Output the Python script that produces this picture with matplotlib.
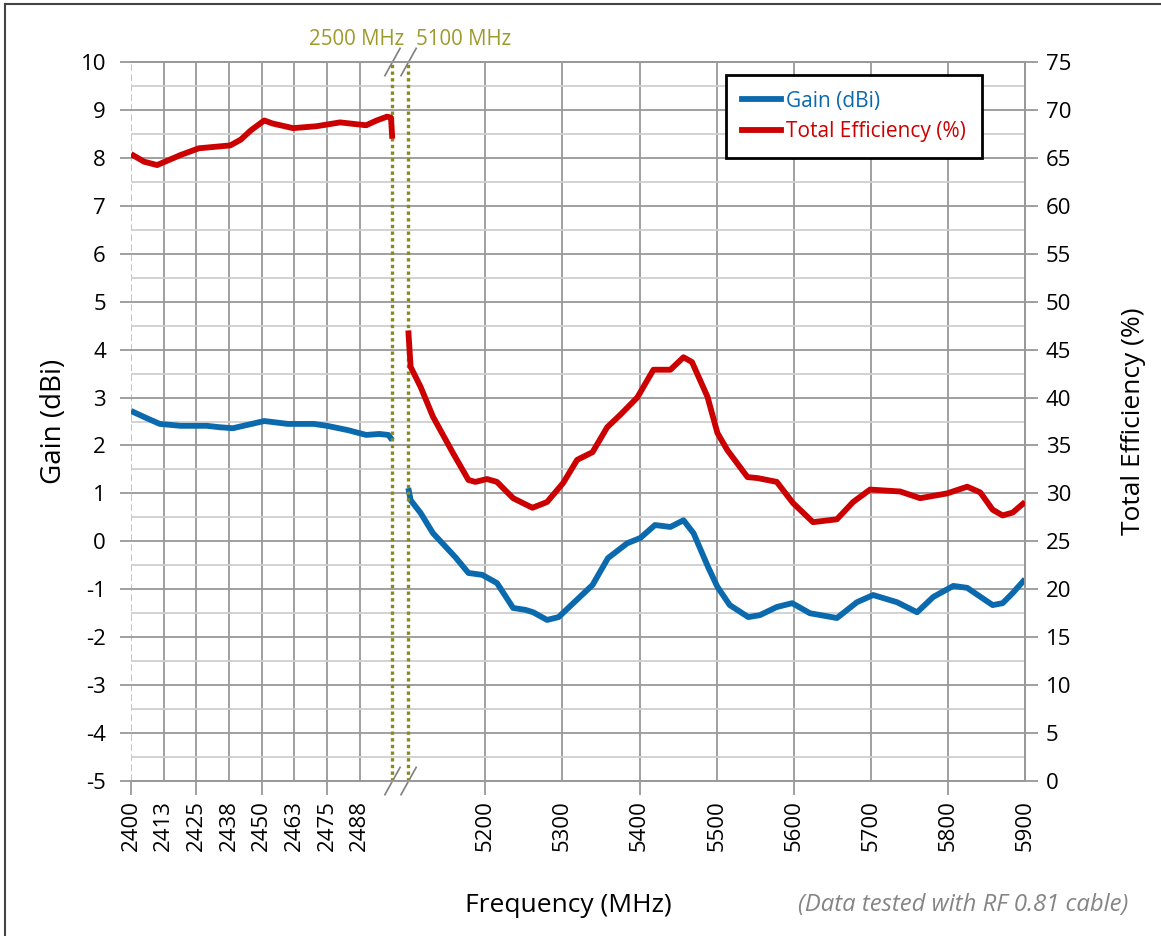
import numpy as np
import matplotlib
matplotlib.use("Agg")
import matplotlib.pyplot as plt
from matplotlib.lines import Line2D

plt.rcParams['font.family'] = ['Open Sans', 'DejaVu Sans']

# 2.4 GHz band readings
freq_lo_gain = [2400, 2406, 2411, 2419, 2429, 2434, 2439, 2443, 2451, 2460, 2470, 2475, 2483, 2490, 2495, 2498.5, 2500]
gain_lo = [2.72, 2.57, 2.45, 2.41, 2.41, 2.38, 2.36, 2.41, 2.51, 2.45, 2.45, 2.41, 2.32, 2.22, 2.24, 2.22, 2.11]
freq_lo_eff = [2400, 2405, 2410, 2419, 2426, 2438, 2442, 2446, 2451, 2454, 2462, 2471, 2480, 2490, 2494, 2498, 2499.5, 2500]
eff_lo = [65.4, 64.6, 64.25, 65.3, 66.0, 66.3, 66.9, 67.9, 68.9, 68.6, 68.1, 68.3, 68.7, 68.4, 68.9, 69.3, 69.2, 67.0]

# 5 GHz band readings
freq_hi_gain = [5100, 5103, 5116, 5132, 5161, 5178, 5196, 5215, 5236, 5252, 5262, 5280, 5295, 5314, 5339,
                5359, 5384, 5401, 5420, 5440, 5457, 5470, 5489, 5501, 5517, 5541, 5556, 5578, 5598, 5621,
                5656, 5682, 5703, 5734, 5760, 5781, 5807, 5825, 5858, 5871, 5884, 5900]
gain_hi = [1.11, 0.86, 0.59, 0.17, -0.33, -0.66, -0.70, -0.87, -1.39, -1.43, -1.48, -1.64, -1.58, -1.29, -0.91,
           -0.35, -0.04, 0.07, 0.34, 0.30, 0.44, 0.17, -0.54, -0.95, -1.33, -1.58, -1.54, -1.37, -1.29, -1.50,
           -1.60, -1.27, -1.12, -1.27, -1.48, -1.16, -0.93, -0.97, -1.33, -1.29, -1.08, -0.79]
freq_hi_eff = [5100, 5103, 5116, 5132, 5158, 5178, 5187, 5202, 5215, 5236, 5261, 5280, 5301, 5319, 5339,
               5358, 5375, 5397, 5418, 5440, 5457, 5468, 5488, 5501, 5514, 5540, 5553, 5578, 5599, 5625,
               5656, 5677, 5699, 5738, 5764, 5799, 5825, 5842, 5858, 5871, 5884, 5900]
eff_hi = [47.0, 43.2, 41.1, 38.0, 34.2, 31.4, 31.2, 31.5, 31.2, 29.5, 28.5, 29.1, 31.1, 33.5, 34.3,
          36.9, 38.2, 40.0, 42.9, 42.9, 44.2, 43.7, 40.1, 36.3, 34.5, 31.7, 31.6, 31.2, 29.0, 27.0,
          27.3, 29.1, 30.4, 30.2, 29.5, 30.0, 30.7, 30.1, 28.3, 27.7, 28.0, 29.1]

tick_freqs = [2400, 2412.5, 2425, 2437.5, 2450, 2462.5, 2475, 2487.5,
              5200, 5300, 5400, 5500, 5600, 5700, 5800, 5900]
tick_labels = ['2400', '2413', '2425', '2438', '2450', '2463', '2475', '2488',
               '5200', '5300', '5400', '5500', '5600', '5700', '5800', '5900']
mark_freqs = [2400, 2425, 2450, 2475, 5200, 5400, 5600, 5800]

BLUE = '#0b6aad'
RED = '#cc0000'
OLIVE = '#8a8a1a'
OLIVE_TXT = '#9d9a2c'
GRID = '#999999'
GRID_MINOR = '#cfcfcf'

# broken frequency axis: 2400-2500 wide, small gap, 5100-5900
def fwd(f):
    f = np.asarray(f, dtype=float)
    return np.where(f <= 2500, (f - 2400) * 2.61,
                    np.where(f >= 5100, 277 + (f - 5100) * 0.77,
                             261 + (f - 2500) * 16 / 2600))

def inv(u):
    u = np.asarray(u, dtype=float)
    return np.where(u <= 261, 2400 + u / 2.61,
                    np.where(u >= 277, 5100 + (u - 277) / 0.77,
                             2500 + (u - 261) * 2600 / 16))

fig = plt.figure(figsize=(11.61, 9.36), dpi=100)
ax = fig.add_axes([131 / 1161, 1 - 781 / 936, 894 / 1161, 719 / 936])
ax.set_xscale('function', functions=(fwd, inv))
ax.set_xlim(2400, 5900)
ax.set_ylim(-5, 10)

ax2 = ax.twinx()
ax2.set_ylim(0, 75)

# grid
ax.set_yticks(np.arange(-5, 11, 1))
ax.set_yticks(np.arange(-4.5, 10, 1), minor=True)
ax.grid(axis='y', which='major', color=GRID, lw=1.3, zorder=0)
ax.grid(axis='y', which='minor', color=GRID_MINOR, lw=1.3, zorder=0)
for f in tick_freqs[1:]:
    ax.axvline(f, color=GRID, lw=1.3, zorder=0.5)
ax.axvline(2400, color='#c8c060', lw=1.2, ls=(0, (4, 2)), zorder=1)

ax.xaxis.remove_overlapping_locs = False
ax.set_xticks(tick_freqs)
ax.set_xticklabels(tick_labels, rotation=90)
ax.set_xticks(mark_freqs, minor=True)
ax.tick_params(axis='x', which='major', length=0, pad=14, labelsize=16)
ax.tick_params(axis='x', which='minor', length=10, width=1.3, color=GRID)
ax.tick_params(axis='y', which='major', length=8, width=1.3, color=GRID, pad=10, labelsize=16)
ax.tick_params(axis='y', which='minor', length=0)
ax.set_yticklabels([str(v) for v in range(-5, 11)])

ax2.set_yticks(np.arange(0, 80, 5))
ax2.tick_params(axis='y', length=9, width=1.3, color=GRID, pad=6, labelsize=16)

for a in (ax, ax2):
    a.spines['left'].set_visible(False)
    for s in ('top', 'bottom', 'right'):
        a.spines[s].set_color(GRID)
        a.spines[s].set_linewidth(1.3)

# data
lw = 4.2
ax.plot(freq_lo_gain, gain_lo, color=BLUE, lw=lw, solid_capstyle='butt', solid_joinstyle='round', zorder=3)
ax.plot(freq_hi_gain, gain_hi, color=BLUE, lw=lw, solid_capstyle='butt', solid_joinstyle='round', zorder=3)
ax2.plot(freq_lo_eff, eff_lo, color=RED, lw=lw, solid_capstyle='butt', solid_joinstyle='round', zorder=3)
ax2.plot(freq_hi_eff, eff_hi, color=RED, lw=lw, solid_capstyle='butt', solid_joinstyle='round', zorder=3)

# band-edge markers
for f in (2500, 5100):
    ax2.axvline(f, color=OLIVE, lw=2.4, ls=(0, (1, 1)), zorder=2)
ax.text(0.306, 1.031, '2500 MHz', color=OLIVE_TXT, fontsize=14.8, ha='right', va='center',
        transform=ax.transAxes)
ax.text(0.319, 1.031, '5100 MHz', color=OLIVE_TXT, fontsize=14.8, ha='left', va='center',
        transform=ax.transAxes)

# axis break marks
for yb in (0.0, 1.0):
    for x0 in (0.284, 0.302):
        ax.plot([x0, x0 + 0.017], [yb - 0.019, yb + 0.019], color='#7f7f7f', lw=1.2,
                transform=ax.transAxes, clip_on=False, zorder=5)

ax.set_ylabel('Gain (dBi)', fontsize=20, labelpad=9)
ax2.set_ylabel('Total Efficiency (%)', fontsize=19, labelpad=36)
fig.text(568 / 1161, 1 - 905 / 936, 'Frequency (MHz)', fontsize=19, ha='center', va='center')
fig.text(1128 / 1161, 1 - 905 / 936, '(Data tested with RF 0.81 cable)', fontsize=17.2,
         style='italic', color='#858585', ha='right', va='center')

handles = [Line2D([], [], color=BLUE, lw=4.2), Line2D([], [], color=RED, lw=4.2)]
leg = ax2.legend(handles, ['Gain (dBi)', 'Total Efficiency (%)'], loc='upper left',
                 bbox_to_anchor=(0.6656, 0.982), fontsize=15, frameon=True, fancybox=False,
                 framealpha=1, edgecolor='black', handlelength=1.9, handletextpad=0.25,
                 borderpad=0.75, labelspacing=0.45, borderaxespad=0)
leg.get_frame().set_linewidth(2.0)
for txt, c in zip(leg.get_texts(), (BLUE, RED)):
    txt.set_color(c)
leg.set_zorder(10)

# outer frame
fig.add_artist(Line2D([5 / 1161, 5 / 1161], [0, 1 - 4 / 936], color='#444444', lw=1.5))
fig.add_artist(Line2D([5 / 1161, 1], [1 - 4 / 936, 1 - 4 / 936], color='#444444', lw=1.5))

fig.savefig('out.png', dpi=100)
